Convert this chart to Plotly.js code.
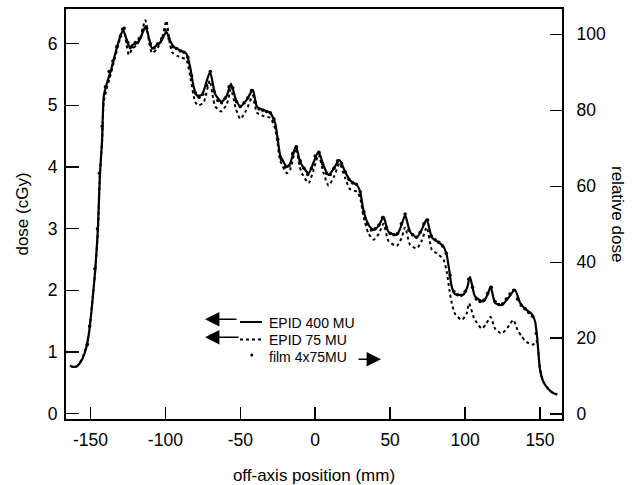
<!DOCTYPE html>
<html>
<head>
<meta charset="utf-8">
<script src="https://cdn.plot.ly/plotly-3.0.1.min.js"></script>
<style>html,body{margin:0;padding:0;background:#fff;}#chart{width:638px;height:485px;}</style>
</head>
<body>
<div id="chart"></div>
<script>
// ---- data (off-axis position in mm, dose in cGy) ----
const epid400X = [-163.5,-162,-159,-156,-153,-151,-149.5,-148,-146.7,-145,-143.7,-142.2,-141.1,-139,-136.5,-134.4,-131,-128.2,-126,-123.5,-122,-119,-116.7,-113.3,-111,-108.9,-106,-103.3,-99.3,-97,-94.4,-90,-86,-83.3,-81.1,-78.9,-75.6,-70.2,-66.7,-62.5,-59,-56.2,-53,-50,-46,-41.6,-38.9,-34,-30,-26.7,-25,-23.3,-18.9,-16.7,-12.9,-10.5,-8.9,-4.4,-1,2.2,5.6,8.9,12.5,16.2,20,23.3,27.8,30,32.2,35.6,38.9,42.5,45.6,48.9,54.4,57.5,60,63.3,67.8,71,74.4,77.8,81.1,85.6,87.8,89.6,91.1,93.3,98.9,101.5,103.3,106.7,112.2,115,117.1,120,124.4,129,133.3,136.7,140,144.4,146.7,148.2,149,150,152.2,155.6,158.5,161.5];
const epid400Y = [0.78,0.76,0.77,0.86,1.05,1.30,1.62,2.00,2.36,3.00,3.87,4.44,5.15,5.36,5.55,5.75,6.05,6.22,6.08,5.92,5.98,6.01,6.08,6.28,6.10,5.92,5.97,6.02,6.19,6.05,5.95,5.89,5.84,5.60,5.30,5.16,5.17,5.54,5.18,5.06,5.16,5.35,5.10,4.98,5.08,5.25,4.98,4.92,4.88,4.71,4.45,4.19,4.00,4.06,4.34,4.12,4.03,3.90,4.08,4.25,4.02,3.87,3.98,4.11,3.92,3.78,3.71,3.60,3.30,3.06,2.98,3.05,3.19,2.95,2.90,3.05,3.22,2.95,2.86,2.98,3.15,2.86,2.80,2.71,2.57,2.30,2.06,1.94,1.93,2.05,2.22,1.90,1.82,1.93,2.06,1.80,1.76,1.88,2.01,1.80,1.70,1.62,1.50,1.22,0.98,0.72,0.52,0.40,0.34,0.31];

const epid75X = [-163.5,-162,-159,-156,-153,-151,-149.5,-148,-146.7,-145,-143.7,-142.2,-141.1,-139,-136.5,-134.4,-131,-128.2,-126,-124.4,-122,-119,-116.7,-113.3,-111,-108.9,-106,-104.4,-102,-99.3,-97,-95.5,-92,-90,-86,-83.3,-80,-77.8,-74.4,-70.4,-68,-66.7,-62.7,-59,-56.2,-53,-50,-46,-41.6,-38.9,-34,-30,-26.7,-25,-23.3,-18.9,-16.7,-12.9,-10.5,-8.9,-4.4,-1,2.2,5.6,8.9,12.5,16.2,20,23.3,27.8,30,32.2,35.6,38.9,42.5,45.6,48.9,54.4,57.5,60,63.3,67.8,71,74.4,77.8,81.1,85.6,87.8,89.6,91.1,93.3,97.8,101,102.7,106,111.1,114,117.1,120,124.4,128.5,132.2,135,137.8,141.1,145.6,147.2,148.2,149,150,152.2,155.6,158.5,161.5];
const epid75Y = [0.78,0.76,0.77,0.87,1.07,1.32,1.63,2.00,2.34,2.98,3.85,4.42,5.05,5.28,5.50,5.70,6.02,6.28,6.00,5.82,5.92,5.98,6.10,6.38,6.05,5.85,5.90,5.96,6.10,6.37,6.00,5.86,5.80,5.78,5.74,5.45,5.05,5.00,5.05,5.40,5.10,4.98,4.90,5.02,5.26,4.95,4.78,4.92,5.16,4.88,4.82,4.80,4.62,4.36,4.10,3.90,3.96,4.30,4.02,3.90,3.74,3.96,4.20,3.90,3.70,3.84,4.06,3.82,3.64,3.60,3.50,3.20,2.92,2.82,2.92,3.08,2.80,2.72,2.84,3.02,2.74,2.68,2.80,3.02,2.66,2.60,2.50,2.30,2.00,1.80,1.62,1.52,1.62,1.79,1.55,1.38,1.45,1.57,1.38,1.30,1.40,1.52,1.36,1.25,1.16,1.12,1.18,1.15,0.98,0.72,0.52,0.40,0.34,0.31];

const filmX = [-152,-150.5,-147,-145.3,-144,-142.2,-140,-137.5,-135,-132.5,-130,-127.5,-125,-122.5,-120,-117.5,-115,-112.5,-110,-107.5,-105,-102.5,-100,-97.5,-95,-92.5,-90,-87.5,-85,-82.5,-80,-77.5,-75,-72.5,-70,-67.5,-65,-62.5,-60,-57.5,-55,-52.5,-50,-47.5,-45,-42.5,-40,-37.5,-35,-32.5,-30,-27.5,-25,-22.5,-20,-17.5,-15,-12.5,-10,-7.5,-5,-2.5,0,2.5,5,7.5,10,12.5,15,17.5,20,22.5,25,27.5,30,32.5,35,37.5,40,42.5,45,47.5,50,52.5,55,57.5,60,62.5,65,67.5,70,72.5,75,77.5,80,82.5,85,87.5,90,92.5,95,97.5,100,102.5,105,107.5,110,112.5,115,117.5,120,122.5,125,127.5,130,132.5,135,137.5,140,142.5,145,147.5];
const filmY = [1.12,1.42,2.35,3.00,3.90,4.66,5.30,5.55,5.72,5.95,6.12,6.25,6.02,5.95,6.02,6.08,6.22,6.25,6.00,5.93,6.00,6.08,6.22,6.08,5.95,5.92,5.88,5.86,5.78,5.48,5.20,5.13,5.18,5.32,5.55,5.22,5.08,5.04,5.12,5.30,5.28,5.06,4.98,5.04,5.12,5.24,5.05,4.94,4.92,4.90,4.88,4.78,4.45,4.12,4.00,4.02,4.22,4.33,4.10,3.98,3.88,3.98,4.18,4.24,4.05,3.90,3.88,3.98,4.10,4.06,3.92,3.80,3.74,3.72,3.60,3.28,3.08,2.98,3.00,3.06,3.18,3.02,2.92,2.90,2.92,3.08,3.24,2.98,2.90,2.86,2.94,3.08,3.14,2.88,2.82,2.78,2.72,2.60,2.25,1.98,1.93,1.92,1.98,2.18,2.05,1.86,1.82,1.84,1.95,2.05,1.82,1.77,1.78,1.86,1.94,2.00,1.86,1.76,1.70,1.64,1.58,1.30];

const xTickVals = [-150,-100,-50,0,50,100,150];
const xTickText = ['-150','-100','-50','0','50','100','150'];
const yTickVals = [0,1,2,3,4,5,6];
const y2TickVals = [0,20,40,60,80,100];
const legendLabels = ['EPID 400 MU','EPID 75 MU','film 4x75MU'];
const y2Title = 'relative dose';

// ---- plot ----
const FONT = '"Liberation Sans", Arial, Helvetica, sans-serif';
const L = 66, R = 562, T = 9, B = 419, W = 638, H = 485;
const px = v => (v - L) / (R - L);
const py = v => (B - v) / (B - T);

const traces = [
  {x: epid400X, y: epid400Y, type: 'scatter', mode: 'lines', name: legendLabels[0],
   line: {color: '#000', width: 2.2, shape: 'spline', smoothing: 0.6}},
  {x: epid75X, y: epid75Y, type: 'scatter', mode: 'lines', name: legendLabels[1],
   line: {color: '#000', width: 2, dash: '3px,3px', shape: 'spline', smoothing: 0.6}},
  {x: filmX, y: filmY, type: 'scatter', mode: 'markers', name: legendLabels[2],
   marker: {color: '#000', size: 3.5}},
  // empty trace that only registers the right-hand relative-dose axis
  {x: [], y: [], type: 'scatter', mode: 'lines', yaxis: 'y2', showlegend: false, hoverinfo: 'skip'}
];

const axCommon = {
  ticks: 'inside', tickcolor: '#000', tickwidth: 1.5, showline: true, linecolor: '#000',
  linewidth: 2, showgrid: false, zeroline: false, tickfont: {family: FONT, size: 17.5, color: '#000'}
};

const layout = {
  width: W, height: H,
  margin: {l: L, r: W - R, t: T, b: H - B, pad: 0},
  paper_bgcolor: '#fff', plot_bgcolor: '#fff',
  showlegend: false,
  font: {family: FONT, color: '#000'},
  xaxis: Object.assign({}, axCommon, {
    range: [-166.3, 164.7], tickmode: 'array', tickvals: xTickVals, ticktext: xTickText,
    ticklen: 12, mirror: true, ticklabelstandoff: 4,
    title: {text: 'off-axis position (mm)', font: {family: FONT, size: 17, color: '#000'}, standoff: 22}
  }),
  yaxis: Object.assign({}, axCommon, {
    range: [-0.086, 6.562], tickmode: 'array', tickvals: yTickVals, ticklen: 13, mirror: true,
    ticklabelstandoff: 3,
    title: {text: 'dose (cGy)', font: {family: FONT, size: 17, color: '#000'}, standoff: 15}
  }),
  yaxis2: Object.assign({}, axCommon, {
    range: [-1.26, 106.66], tickmode: 'array', tickvals: y2TickVals, ticklen: 12,
    overlaying: 'y', side: 'right', ticklabelstandoff: 9
  }),
  shapes: [
    {type: 'line', xref: 'paper', yref: 'paper', x0: px(240), x1: px(262), y0: py(322), y1: py(322),
     line: {color: '#000', width: 2}},
    {type: 'line', xref: 'paper', yref: 'paper', x0: px(240), x1: px(262), y0: py(339.5), y1: py(339.5),
     line: {color: '#000', width: 2, dash: '3px,3px'}},
    {type: 'circle', xref: 'paper', yref: 'paper', x0: px(250.3), x1: px(253.3), y0: py(353.5), y1: py(356.5),
     fillcolor: '#000', line: {color: '#000', width: 0}}
  ],
  annotations: [
    {xref: 'paper', yref: 'paper', x: px(618), y: py(214), xanchor: 'center', yanchor: 'middle', showarrow: false,
     textangle: 90, text: y2Title, font: {family: FONT, size: 17, color: '#000'}},
    {xref: 'paper', yref: 'paper', x: px(267), y: py(322.5), xanchor: 'left', yanchor: 'middle', showarrow: false,
     text: legendLabels[0], font: {family: FONT, size: 14, color: '#000'}},
    {xref: 'paper', yref: 'paper', x: px(267), y: py(339.5), xanchor: 'left', yanchor: 'middle', showarrow: false,
     text: legendLabels[1], font: {family: FONT, size: 14, color: '#000'}},
    {xref: 'paper', yref: 'paper', x: px(267), y: py(356.5), xanchor: 'left', yanchor: 'middle', showarrow: false,
     text: legendLabels[2], font: {family: FONT, size: 14, color: '#000'}},
    {xref: 'paper', yref: 'paper', x: px(205), y: py(319.3), ax: 33, ay: 0, text: '', showarrow: true,
     arrowhead: 2, arrowsize: 1.8, arrowwidth: 1.6, arrowcolor: '#000'},
    {xref: 'paper', yref: 'paper', x: px(205), y: py(337.3), ax: 35, ay: 0, text: '', showarrow: true,
     arrowhead: 2, arrowsize: 1.8, arrowwidth: 1.6, arrowcolor: '#000'},
    {xref: 'paper', yref: 'paper', x: px(381), y: py(359.3), ax: -24, ay: 0, text: '', showarrow: true,
     arrowhead: 2, arrowsize: 1.8, arrowwidth: 1.6, arrowcolor: '#000'}
  ]
};

Plotly.newPlot('chart', traces, layout, {staticPlot: true, displayModeBar: false});
</script>
</body>
</html>
